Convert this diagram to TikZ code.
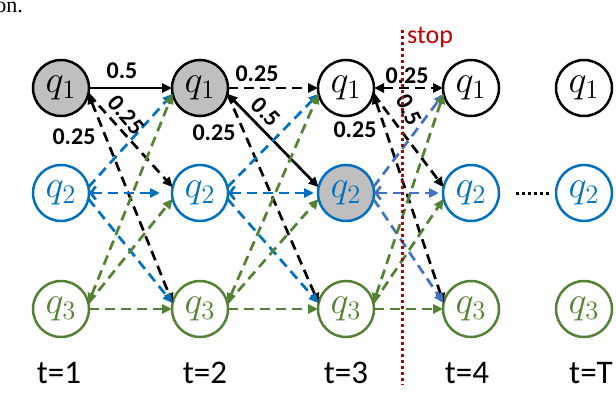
\documentclass[tikz,border=0pt]{standalone}
\usepackage{graphicx}
\usepackage{fontspec}
\newfontfamily\carlito{Carlito}
\newfontfamily\libserif{Liberation Serif}
\usetikzlibrary{arrows.meta}
\definecolor{qblue}{HTML}{0070C0}
\definecolor{lblue}{HTML}{4472C4}
\definecolor{qgreen}{HTML}{548235}
\definecolor{qred}{HTML}{C00000}
\definecolor{qgray}{HTML}{BFBFBF}
\newcommand{\qlab}[1]{\scalebox{1.85}{$q_{#1}$}}
\tikzset{
  st/.style={circle, minimum size=56pt, inner sep=0pt, outer sep=0pt, line width=2.5pt, draw, fill=white,
    font=\fontsize{20}{20}\selectfont},
  s1/.style={st, draw=black, text=black},
  s2/.style={st, draw=qblue, text=qblue},
  s3/.style={st, draw=qgreen, text=qgreen},
  ar/.style={-{Triangle[length=10pt,width=9pt]}},
  bar/.style={{Triangle[length=10pt,width=9pt]}-{Triangle[length=10pt,width=9pt]}},
  obar/.style={{Straight Barb[length=5pt,width=13pt]}-{Triangle[length=10pt,width=9pt]}},
  sol/.style={line width=2.7pt},
  dsh/.style={line width=2.7pt, dash pattern=on 10pt off 6pt},
  prob/.style={font=\carlito\bfseries\fontsize{24}{24}\selectfont, inner sep=0pt},
  tlab/.style={font=\carlito\fontsize{33}{33}\selectfont, anchor=base, inner sep=0pt},
}
\begin{document}
\begin{tikzpicture}[x=1pt,y=-1pt]
\useasboundingbox (0,0) rectangle (616,420);
\node[font=\libserif\fontsize{22}{22}\selectfont, anchor=base east, inner sep=0pt] (cap) at (23,13) {on.};
% states
\node[s1, fill=qgray] (A1) at (61,88) {\qlab{1}};
\node[s2] (A2) at (61,193) {\qlab{2}};
\node[s3] (A3) at (61,309) {\qlab{3}};
\node[s1, fill=qgray] (B1) at (200,88) {\qlab{1}};
\node[s2] (B2) at (200,193) {\qlab{2}};
\node[s3] (B3) at (200,309) {\qlab{3}};
\node[s1] (C1) at (346,88) {\qlab{1}};
\node[s2, fill=qgray] (C2) at (346,193) {\qlab{2}};
\node[s3] (C3) at (346,309) {\qlab{3}};
\node[s1] (D1) at (471,88) {\qlab{1}};
\node[s2] (D2) at (471,193) {\qlab{2}};
\node[s3] (D3) at (471,309) {\qlab{3}};
\node[s1] (T1) at (584,88) {\qlab{1}};
\node[s2] (T2) at (584,193) {\qlab{2}};
\node[s3] (T3) at (584,309) {\qlab{3}};
% gap 1
\draw[sol, ar] (A1.east) -- (B1.west);
\draw[dsh, ar] (A1.-12) -- (B2.168);
\draw[dsh, bar] (A1.-12) -- (B3.168);
\draw[dsh, qblue, ar] (A2.12) -- (B1.192);
\draw[dsh, qblue, obar, shorten >=12pt] (A2.east) -- (B2.west);
\draw[dsh, qblue, ar] (A2.-12) -- (B3.168);
\draw[dsh, qgreen, bar] (A3.12) -- (B1.192);
\draw[dsh, qgreen, ar] (A3.12) -- (B2.192);
\draw[dsh, qgreen, ar] (A3.east) -- (B3.west);
% gap 2
\draw[dsh, ar] (B1.east) -- (C1.west);
\draw[sol, bar] (B1.-12) -- (C2.168);
\draw[dsh, ar] (B1.-12) -- (C3.168);
\draw[dsh, qblue, ar] (B2.12) -- (C1.192);
\draw[dsh, qblue, obar, shorten >=4pt] (B2.east) -- (C2.west);
\draw[dsh, qblue, ar] (B2.-12) -- (C3.168);
\draw[dsh, qgreen, bar] (B3.12) -- (C1.192);
\draw[dsh, qgreen, ar] (B3.12) -- (C2.192);
\draw[dsh, qgreen, ar] (B3.east) -- (C3.west);
% gap 3
\draw[dsh, bar] (C1.east) -- (D1.west);
\draw[dsh, ar] (C1.-12) -- (D2.168);
\draw[dsh, bar] (C1.-12) -- (D3.168);
\draw[dsh, lblue, ar] (C2.12) -- (D1.192);
\draw[dsh, lblue, obar, shorten >=4pt] (C2.east) -- (D2.west);
\draw[dsh, lblue, ar] (C2.-12) -- (D3.168);
\draw[dsh, qgreen, bar] (C3.12) -- (D1.192);
\draw[dsh, qgreen, ar] (C3.12) -- (D2.192);
\draw[dsh, qgreen, ar] (C3.east) -- (D3.west);
% dots to T
\path (D2.east) ++(17,0) coordinate (dd1) (T2.west) ++(-7,0) coordinate (dd2);
\draw[line width=3pt, dash pattern=on 3pt off 3pt] (dd1) -- (dd2);
% probabilities
\node[prob] (p1) at (122,71) {0.5};
\node[prob, rotate=-50] (p2) at (126,115) {0.25};
\node[prob] (p3) at (74,137) {0.25};
\node[prob] (p4) at (257,74) {0.25};
\node[prob, rotate=-45] (p5) at (266,112) {0.5};
\node[prob] (p6) at (214,133) {0.25};
\node[prob] (p7) at (407,76) {0.25};
\node[prob, rotate=-63] (p8) at (409,110) {0.5};
\node[prob] (p9) at (355,130) {0.25};
% stop line
\coordinate (s0) at (402,30);
\coordinate (s1) at (402,385);
\draw[qred, line width=3pt, dash pattern=on 3pt off 3pt] (s0) -- (s1);
\node[font=\carlito\fontsize{26}{26}\selectfont, text=qred, anchor=base west, inner sep=0pt] (stop) at (407,44) {stop};
% time labels
\node[tlab] (t1) at (59,383) {t=1};
\node[tlab] (t2) at (205,383) {t=2};
\node[tlab] (t3) at (346,383) {t=3};
\node[tlab] (t4) at (467,383) {t=4};
\node[tlab] (tT) at (591,383) {t=T};
\end{tikzpicture}
\end{document}
